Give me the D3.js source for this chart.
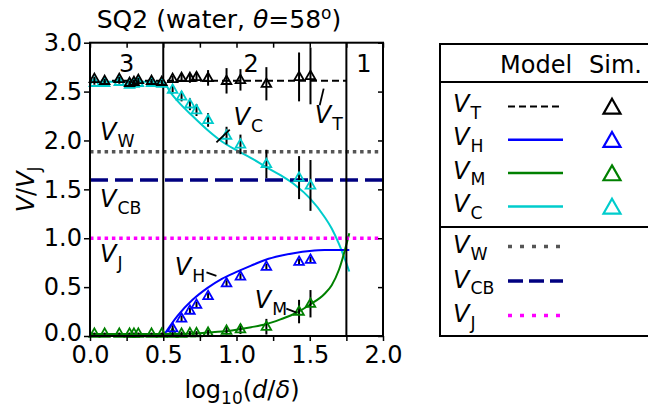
<!DOCTYPE html>
<html>
<head>
<meta charset="utf-8">
<script src="https://cdn.jsdelivr.net/npm/d3@7"></script>
<style>
  body { margin: 0; background: #fff; }
  svg { display: block; font-family: "DejaVu Sans", sans-serif; }
</style>
</head>
<body>
<svg id="chart" width="648" height="411"></svg>
<script>
// simulation points (log10(d/delta) and V/VJ)
var simX = [0.03, 0.1, 0.2, 0.27, 0.3, 0.33, 0.42, 0.49,
            0.564, 0.625, 0.682, 0.727, 0.806, 0.932, 1.027, 1.204, 1.427, 1.505];
var simT = [2.63, 2.61, 2.63, 2.59, 2.60, 2.62, 2.61, 2.60,
            2.63, 2.64, 2.64, 2.65, 2.64, 2.61, 2.62, 2.58, 2.65, 2.66];
var simTErr = [0.02, 0.02, 0.02, 0.02, 0.02, 0.02, 0.02, 0.02,
               0.03, 0.04, 0.05, 0.05, 0.08, 0.13, 0.11, 0.17, 0.25, 0.29];
var simC = [2.59, 2.59, 2.60, 2.57, 2.58, 2.59, 2.59, 2.58,
            2.52, 2.45, 2.37, 2.31, 2.21, 2.05, 1.96, 1.76, 1.62, 1.54];
var simCErr = [0.02, 0.02, 0.02, 0.02, 0.02, 0.02, 0.02, 0.02,
               0.04, 0.05, 0.06, 0.06, 0.07, 0.09, 0.10, 0.145, 0.22, 0.26];
var simH = [null, null, null, null, null, null, null, null,
            0.08, 0.18, 0.26, 0.32, 0.41, 0.54, 0.61, 0.71, 0.76, 0.78];
var simHErr = [0, 0, 0, 0, 0, 0, 0, 0,
               0.03, 0.03, 0.03, 0.03, 0.03, 0.03, 0.03, 0.03, 0.03, 0.03];
var simM = [0.025, 0.025, 0.025, 0.025, 0.025, 0.025, 0.025, 0.025,
            0.025, 0.025, 0.03, 0.03, 0.035, 0.055, 0.07, 0.095, 0.25, 0.33];
var simMErr = [0.01, 0.01, 0.01, 0.01, 0.01, 0.01, 0.01, 0.01,
               0.02, 0.02, 0.02, 0.02, 0.03, 0.04, 0.05, 0.08, 0.12, 0.14];

// model curves
var modelX = [0.0, 0.5, 0.55, 0.6, 0.7, 0.8, 0.9, 1.0, 1.1, 1.2, 1.3, 1.4, 1.5, 1.6, 1.65, 1.7, 1.77];
var modelC = [2.6, 2.6, 2.49, 2.40, 2.25, 2.11, 1.99, 1.90, 1.82, 1.73, 1.645, 1.545, 1.41, 1.22, 1.10, 0.94, 0.66];
var modelH = [null, 0.0, 0.11, 0.21, 0.37, 0.49, 0.585, 0.655, 0.72, 0.78, 0.82, 0.85, 0.87, 0.88, 0.88, 0.88, 0.88];
var modelM = [0.02, 0.02, 0.02, 0.02, 0.025, 0.035, 0.045, 0.065, 0.09, 0.12, 0.17, 0.23, 0.32, 0.43, 0.52, 0.68, 1.05];

// reference velocities
var refNames = ['T', 'W', 'CB', 'J'];
var refValues = [2.61, 1.885, 1.595, 1.0];
var refEnds = [1.75, 2.0, 2.0, 2.0];
var regimeBounds = [0.5, 1.75];
var regimeLabels = ['3', '2', '1'];
var regimeCenters = [0.25, 1.1, 1.87];

var xTicks = [0, 0.25, 0.5, 0.75, 1.0, 1.25, 1.5, 1.75, 2.0];
var yTicks = [0, 0.5, 1.0, 1.5, 2.0, 2.5, 3.0];

var col = {T: '#000000', H: '#0000ff', M: '#008000', C: '#00cccc',
           W: '#555555', CB: '#000080', J: '#ff00ff'};
var refStyle = {
  T:  {w: 2,   dash: '7,4'},
  W:  {w: 3.5, dash: '3.5,3.8'},
  CB: {w: 3.5, dash: '18,7'},
  J:  {w: 3.5, dash: '3.5,3.8'}
};

var svg = d3.select('#chart');
var x = d3.scaleLinear().domain([0, 2]).range([90, 383]);
var y = d3.scaleLinear().domain([0, 3]).range([336, 42.7]);

/////////////
// Helpers //
/////////////

// italic V with roman subscript, matplotlib mathtext style
var addV = function(g, px, py, sub, size) {
  var t = g.append('text')
    .attr('x', px).attr('y', py)
    .style('font-size', size + 'px');
  t.append('tspan').style('font-style', 'italic').text('V');
  t.append('tspan')
    .attr('dx', 1)
    .attr('dy', size * 0.28)
    .style('font-size', (size * 0.72) + 'px')
    .text(sub);
  return t;
};

// upward triangle marker of half width w
var triPath = function(w) {
  var h = w * 1.75;
  return 'M0,' + (-h * 0.62) + ' L' + w + ',' + (h * 0.38) + ' L' + (-w) + ',' + (h * 0.38) + ' Z';
};

////////////
// Curves //
////////////

var plot = svg.append('g');

var curve = function(vals, color) {
  var pts = modelX.map(function(d, i) { return [d, vals[i]]; })
    .filter(function(p) { return p[1] !== null; });
  plot.append('path')
    .datum(pts)
    .attr('fill', 'none')
    .attr('stroke', color)
    .attr('stroke-width', 2)
    .attr('d', d3.line()
      .x(function(p) { return x(p[0]); })
      .y(function(p) { return y(p[1]); })
      .curve(d3.curveMonotoneX));
};
curve(modelC, col.C);
curve(modelH, col.H);
curve(modelM, col.M);

refNames.forEach(function(n, i) {
  plot.append('line')
    .attr('x1', x(0)).attr('x2', x(refEnds[i]))
    .attr('y1', y(refValues[i])).attr('y2', y(refValues[i]))
    .attr('stroke', col[n])
    .attr('stroke-width', refStyle[n].w)
    .attr('stroke-dasharray', refStyle[n].dash);
});

regimeBounds.forEach(function(b) {
  plot.append('line')
    .attr('x1', x(b)).attr('x2', x(b))
    .attr('y1', y(0)).attr('y2', y(3))
    .attr('stroke', '#000').attr('stroke-width', 2);
});

/////////////////
// Sim. points //
/////////////////

var series = [
  {vals: simM, err: simMErr, color: col.M},
  {vals: simH, err: simHErr, color: col.H},
  {vals: simC, err: simCErr, color: col.C},
  {vals: simT, err: simTErr, color: col.T}
];

series.forEach(function(s) {
  var pts = simX.map(function(d, i) { return {x: d, v: s.vals[i], e: s.err[i]}; })
    .filter(function(p) { return p.v !== null; });
  var g = plot.append('g');
  g.selectAll('line.err').data(pts).enter().append('line')
    .attr('x1', function(p) { return x(p.x); })
    .attr('x2', function(p) { return x(p.x); })
    .attr('y1', function(p) { return y(p.v - p.e); })
    .attr('y2', function(p) { return y(p.v + p.e); })
    .attr('stroke', '#000').attr('stroke-width', 2);
  g.selectAll('path.mk').data(pts).enter().append('path')
    .attr('transform', function(p) { return 'translate(' + x(p.x) + ',' + y(p.v) + ')'; })
    .attr('d', triPath(4.8))
    .attr('fill', 'none')
    .attr('stroke', s.color)
    .attr('stroke-width', 1.8);
});

//////////
// Axes //
//////////

var fmt = function(d) { return (d * 2) % 1 === 0 ? d.toFixed(1) : ''; };

var gx = svg.append('g')
  .attr('transform', 'translate(0,' + y(0) + ')')
  .call(d3.axisBottom(x).tickValues(xTicks).tickFormat(fmt).tickSize(5).tickSizeOuter(0).tickPadding(5));
var gy = svg.append('g')
  .attr('transform', 'translate(' + x(0) + ',0)')
  .call(d3.axisLeft(y).tickValues(yTicks).tickFormat(d3.format('.1f')).tickSize(6).tickSizeOuter(0).tickPadding(2));
var gt = svg.append('g')
  .attr('transform', 'translate(0,' + y(3) + ')')
  .call(d3.axisBottom(x).tickValues(xTicks).tickFormat('').tickSize(5).tickSizeOuter(0));
var gr = svg.append('g')
  .attr('transform', 'translate(' + x(2) + ',0)')
  .call(d3.axisLeft(y).tickValues(yTicks).tickFormat('').tickSize(5).tickSizeOuter(0));

[gx, gy, gt, gr].forEach(function(g) {
  g.select('.domain').remove();
  g.selectAll('.tick line').attr('stroke', '#000').attr('stroke-width', 1.5);
  g.selectAll('text')
    .style('font-family', '"DejaVu Sans", sans-serif')
    .style('font-size', '24px')
    .attr('fill', '#000');
});
// keep the two corner labels apart
gy.selectAll('.tick text').filter(function(d) { return d === 0; }).attr('dy', '0.2em');

svg.append('rect')
  .attr('x', x(0)).attr('y', y(3))
  .attr('width', x(2) - x(0)).attr('height', y(0) - y(3))
  .attr('fill', 'none').attr('stroke', '#000').attr('stroke-width', 2);

///////////
// Texts //
///////////

var title = svg.append('text')
  .attr('x', 219).attr('y', 28)
  .attr('text-anchor', 'middle')
  .style('font-size', '25px');
title.append('tspan').text('SQ2 (water, ');
title.append('tspan').style('font-style', 'italic').text('θ');
title.append('tspan').text('=58');
title.append('tspan').attr('dy', -9).style('font-size', '17px').text('o');
title.append('tspan').attr('dy', 9).text(')');

var xl = svg.append('text')
  .attr('x', 242).attr('y', 398)
  .attr('text-anchor', 'middle')
  .style('font-size', '24px');
xl.append('tspan').text('log');
xl.append('tspan').attr('dy', 6).style('font-size', '17px').text('10');
xl.append('tspan').attr('dy', -6).text('(');
xl.append('tspan').style('font-style', 'italic').text('d');
xl.append('tspan').text('/');
xl.append('tspan').style('font-style', 'italic').text('δ');
xl.append('tspan').text(')');

var yl = svg.append('text')
  .attr('transform', 'translate(34,' + y(1.5) + ') rotate(-90)')
  .attr('text-anchor', 'middle')
  .style('font-size', '24px');
yl.append('tspan').style('font-style', 'italic').text('V');
yl.append('tspan').text('/');
yl.append('tspan').style('font-style', 'italic').text('V');
yl.append('tspan').attr('dy', 6).style('font-size', '17px').text('J');

regimeLabels.forEach(function(l, i) {
  svg.append('text')
    .attr('x', x(regimeCenters[i])).attr('y', 72)
    .attr('text-anchor', 'middle')
    .style('font-size', '24px')
    .text(l);
});

var ann = svg.append('g');
addV(ann, x(0.068), y(2.004), 'W', 24);
addV(ann, x(0.068), y(1.32), 'CB', 24);
addV(ann, x(0.068), y(0.755), 'J', 24);
addV(ann, x(0.98), y(2.16), 'C', 24);
addV(ann, x(1.534), y(2.175), 'T', 24);
addV(ann, x(0.579), y(0.624), 'H', 24);
addV(ann, x(1.125), y(0.286), 'M', 24);

var leaders = [
  [0.863, 1.98, 0.954, 2.11],
  [1.568, 2.36, 1.595, 2.53],
  [0.795, 0.65, 0.863, 0.616],
  [1.34, 0.28, 1.41, 0.24]
];
leaders.forEach(function(l) {
  ann.append('line')
    .attr('x1', x(l[0])).attr('y1', y(l[1]))
    .attr('x2', x(l[2])).attr('y2', y(l[3]))
    .attr('stroke', '#000').attr('stroke-width', 1.8);
});

////////////
// Legend //
////////////

var leg = svg.append('g');
leg.append('rect')
  .attr('x', 440).attr('y', 44).attr('width', 230).attr('height', 292)
  .attr('fill', 'none').attr('stroke', '#000').attr('stroke-width', 2);
[82, 227].forEach(function(yy) {
  leg.append('line').attr('x1', 440).attr('x2', 670).attr('y1', yy).attr('y2', yy)
    .attr('stroke', '#000').attr('stroke-width', 2);
});
leg.append('text').attr('x', 500).attr('y', 73).style('font-size', '24px').text('Model');
leg.append('text').attr('x', 589).attr('y', 73).style('font-size', '24px').text('Sim.');

var legModel = ['T', 'H', 'M', 'C'];
legModel.forEach(function(n, i) {
  var by = 112 + i * 33.3;
  addV(leg, 453, by, n, 24);
  leg.append('line')
    .attr('x1', 508).attr('x2', 563).attr('y1', by - 5.5).attr('y2', by - 5.5)
    .attr('stroke', col[n]).attr('stroke-width', n === 'T' ? 2 : 2.5)
    .attr('stroke-dasharray', n === 'T' ? '7,4' : null);
  leg.append('path')
    .attr('transform', 'translate(612,' + (by - 4) + ')')
    .attr('d', triPath(8.5))
    .attr('fill', 'none').attr('stroke', col[n]).attr('stroke-width', 2.2);
});

var legRef = ['W', 'CB', 'J'];
var legRefDash = {W: '4,8', CB: '15,6', J: '4,8'};
legRef.forEach(function(n, i) {
  var by = 253 + i * 34.5;
  addV(leg, 453, by, n, 24);
  leg.append('line')
    .attr('x1', 508).attr('x2', 563).attr('y1', by - 6.5).attr('y2', by - 6.5)
    .attr('stroke', col[n]).attr('stroke-width', 3.5)
    .attr('stroke-dasharray', legRefDash[n]);
});
</script>
</body>
</html>
